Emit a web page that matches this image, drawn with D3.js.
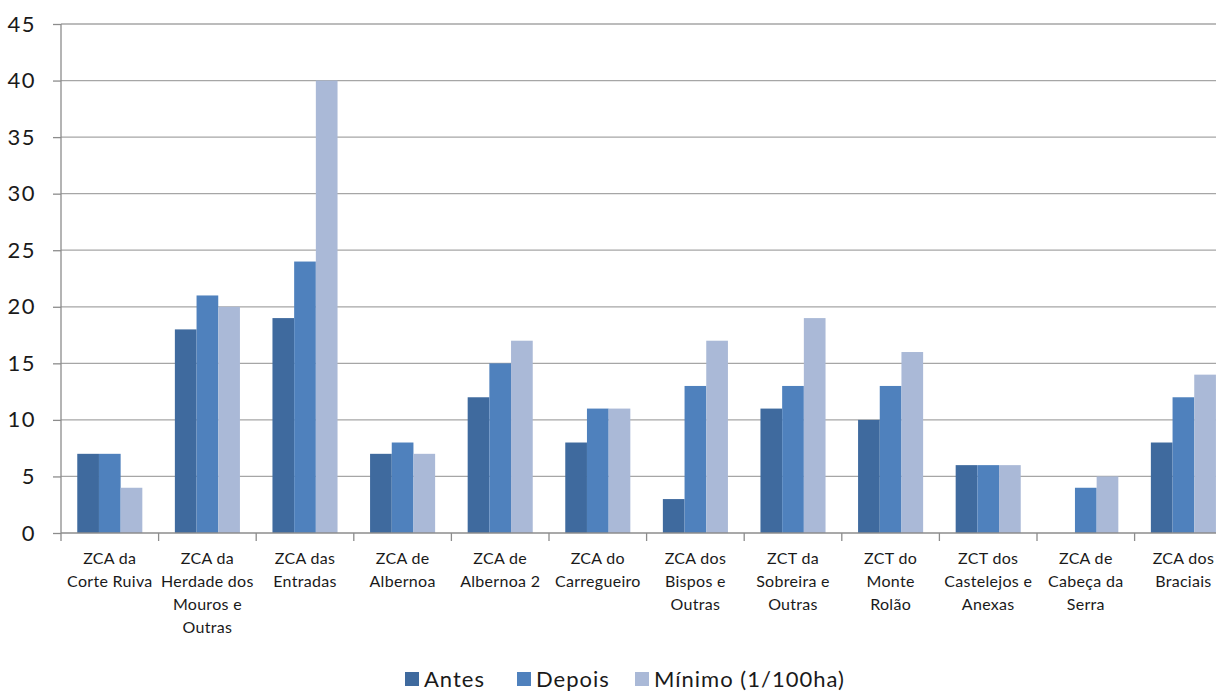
<!DOCTYPE html>
<html>
<head>
<meta charset="utf-8">
<script src="https://cdn.jsdelivr.net/npm/d3@7"></script>
<style>
  body { margin: 0; background: #fff; }
  svg { display: block; font-family: Lato, "Open Sans", sans-serif; }
</style>
</head>
<body>
<div class="chart"></div>
<script>
// DATA ------------------------------**
const categories = [
  'ZCA da|Corte Ruiva',
  'ZCA da|Herdade dos|Mouros e|Outras',
  'ZCA das|Entradas',
  'ZCA de|Albernoa',
  'ZCA de|Albernoa 2',
  'ZCA do|Carregueiro',
  'ZCA dos|Bispos e|Outras',
  'ZCT da|Sobreira e|Outras',
  'ZCT do|Monte|Rolão',
  'ZCT dos|Castelejos e|Anexas',
  'ZCA de|Cabeça da|Serra',
  'ZCA dos|Braciais'
];
const antes  = [7, 18, 19, 7, 12, 8, 3, 11, 10, 6, 0, 8];
const depois = [7, 21, 24, 8, 15, 11, 13, 13, 13, 6, 4, 12];
const minimo = [4, 20, 40, 7, 17, 11, 17, 19, 16, 6, 5, 14];
const seriesNames = ['Antes', 'Depois', 'Mínimo (1/100ha)'];
const seriesColors = ['#3f6a9e', '#4f81bd', '#aab9d7'];
const yTicks = [0, 5, 10, 15, 20, 25, 30, 35, 40, 45];

const seriesValues = [antes, depois, minimo];
const data = categories.map((c, i) => ({
  cat: c,
  values: seriesValues.map((s, j) => ({key: seriesNames[j], value: s[i], idx: j}))
}));

// CHART INIT ------------------------------**
const W = 1216, H = 691;
const margin = {top: 24, left: 61};
const bandW = 97.6;
const width = bandW * categories.length;
const height = 533 - margin.top;

const svg = d3.select('.chart').append('svg')
    .attr('width', W)
    .attr('height', H);

const g = svg.append('g')
    .attr('transform', 'translate(' + margin.left + ',' + margin.top + ')');

let xScale = d3.scaleBand()
    .domain(categories)
    .range([0, width]);

// gap width 150% -> bar takes 1/4.5 of the band
let xInner = d3.scaleBand()
    .domain(seriesNames)
    .range([xScale.bandwidth() * 0.75 / 4.5, xScale.bandwidth() - xScale.bandwidth() * 0.75 / 4.5]);

let yScale = d3.scaleLinear()
    .domain([0, 45])
    .range([height, 0]);

// gridlines
g.append('g')
    .selectAll('line')
    .data(yTicks.filter(d => d > 0))
    .join('line')
    .attr('x1', 0)
    .attr('x2', width)
    .attr('y1', d => yScale(d))
    .attr('y2', d => yScale(d))
    .attr('stroke', '#a6a6a6')
    .attr('stroke-width', 1.3);

// bars
const groups = g.selectAll('.grp')
    .data(data)
    .join('g')
    .attr('class', 'grp')
    .attr('transform', d => 'translate(' + xScale(d.cat) + ',0)');

groups.selectAll('rect')
    .data(d => d.values)
    .join('rect')
    .attr('x', d => xInner(d.key))
    .attr('y', d => yScale(d.value))
    .attr('width', xInner.bandwidth())
    .attr('height', d => height - yScale(d.value))
    .attr('fill', d => seriesColors[d.idx]);

// y axis
let yAxis = d3.axisLeft(yScale)
    .tickValues(yTicks)
    .tickSize(8)
    .tickPadding(17);

const yAxisGroup = g.append('g')
    .attr('class', 'axis y-axis')
    .call(yAxis);
yAxisGroup.selectAll('path, line').attr('stroke', '#8c8c8c').attr('stroke-width', 1.3);
yAxisGroup.selectAll('text')
    .attr('font-size', 22)
    .attr('letter-spacing', 1.5)
    .attr('fill', '#1a1a1a')
    .attr('font-family', 'Lato, sans-serif');
yAxisGroup.select('.domain').attr('d', 'M0,' + height + 'V0');

// x axis: ticks at the band boundaries
const bounds = d3.range(categories.length + 1).map(i => i * xScale.step());
const xAxisGroup = g.append('g')
    .attr('class', 'axis x-axis')
    .attr('transform', 'translate(0,' + height + ')');
xAxisGroup.append('line')
    .attr('x1', 0).attr('x2', width)
    .attr('stroke', '#8c8c8c').attr('stroke-width', 1.3);
xAxisGroup.selectAll('.tk')
    .data(bounds)
    .join('line')
    .attr('class', 'tk')
    .attr('x1', d => d).attr('x2', d => d)
    .attr('y1', 0).attr('y2', 8)
    .attr('stroke', '#8c8c8c').attr('stroke-width', 1.3);

const labels = xAxisGroup.selectAll('.lbl')
    .data(categories)
    .join('text')
    .attr('class', 'lbl')
    .attr('x', d => xScale(d) + xScale.bandwidth() / 2)
    .attr('y', 31)
    .attr('text-anchor', 'middle')
    .attr('font-size', 16)
    .attr('letter-spacing', 0.3)
    .attr('fill', '#1a1a1a');
labels.selectAll('tspan')
    .data(d => d.split('|'))
    .join('tspan')
    .attr('x', function() { return this.parentNode.getAttribute('x'); })
    .attr('dy', (d, i) => i === 0 ? 0 : 23)
    .text(d => d);

// legend
const legendX = [405, 517, 635];
const legend = svg.append('g')
    .selectAll('g')
    .data(seriesNames)
    .join('g')
    .attr('transform', (d, i) => 'translate(' + legendX[i] + ',672)');
legend.append('rect')
    .attr('width', 14)
    .attr('height', 14)
    .attr('fill', (d, i) => seriesColors[i]);
legend.append('text')
    .attr('x', 19)
    .attr('y', 14.5)
    .attr('font-size', 22)
    .attr('letter-spacing', 1)
    .attr('fill', '#1a1a1a')
    .text(d => d);
</script>
</body>
</html>
